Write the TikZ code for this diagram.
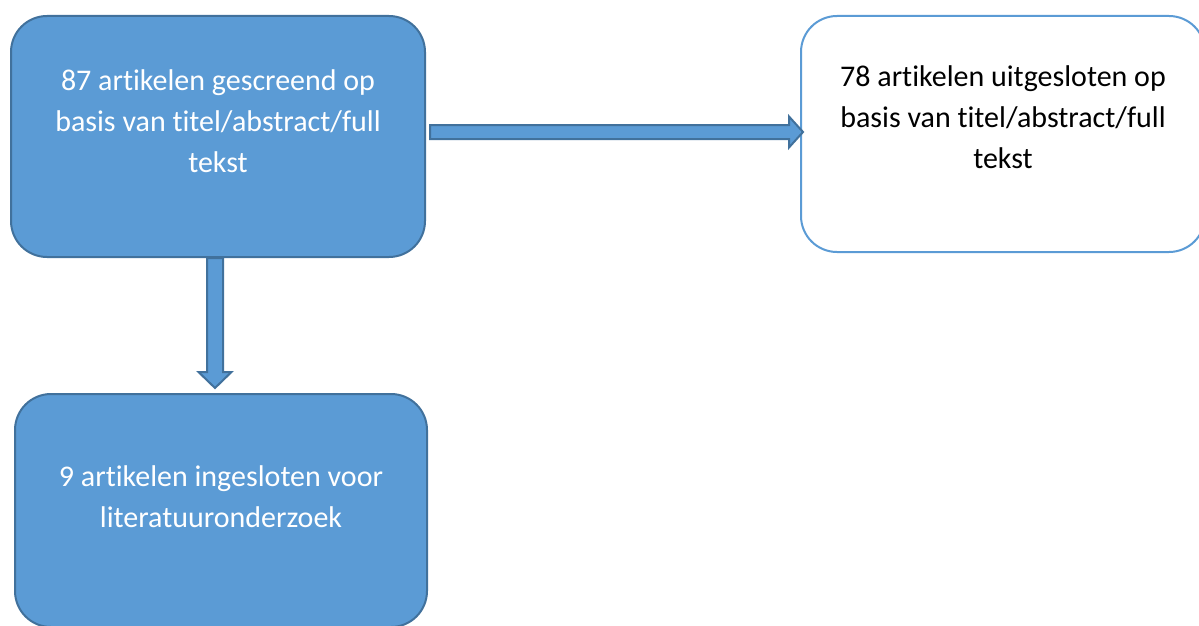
\documentclass[tikz,border=0pt]{standalone}
\usepackage{fontspec}
\setmainfont{Carlito}[RawFeature=-liga]
\usepackage{xcolor}
\usetikzlibrary{positioning,calc}
\definecolor{blauwvul}{RGB}{91,155,213}
\definecolor{blauwrand}{RGB}{65,113,156}

\begin{document}
\begin{tikzpicture}[
  x=1pt, y=-1pt,
  vak/.style  = {
    rectangle, draw=blauwrand, fill=blauwvul, line width=2pt,
    rounded corners=36pt, align=center, text=white,
    font=\fontsize{30}{41}\selectfont
  },
  vakw/.style = {
    rectangle, draw=blauwvul, fill=white, line width=2pt,
    rounded corners=36pt, align=center, text=black,
    font=\fontsize{30}{41}\selectfont
  },
  pijl/.style = {fill=blauwvul, draw=blauwrand, line width=2pt, line join=miter}
]
\useasboundingbox (0,0) rectangle (1199,626);

% Vakken
\node[vak, minimum width=414pt, minimum height=241pt, text depth=30pt]
  (scr) at (218,136.5) {87 artikelen gescreend op\\basis van titel/abstract/full\\tekst};
\node[vakw, minimum width=404pt, minimum height=236pt, text depth=34pt, right=374pt of scr, yshift=2.5pt]
  (excl) {78 artikelen uitgesloten op\\basis van titel/abstract/full\\tekst};
\node[vak, minimum width=412pt, minimum height=233pt, text depth=28pt, below=135pt of scr, xshift=3pt]
  (incl) {9 artikelen ingesloten voor\\literatuuronderzoek};

% Blokpijlen
\coordinate (r0)  at ($(scr.east)+(4,-4.5)$);
\coordinate (rt)  at ($(r0 -| excl.west)+(3,0)$);
\draw[pijl] ($(r0)+(0,-7)$) -- ($(rt)+(-14,-7)$) -- ($(rt)+(-14,-15.5)$) -- (rt)
  -- ($(rt)+(-14,15.5)$) -- ($(rt)+(-14,7)$) -- ($(r0)+(0,7)$) -- cycle;

\coordinate (d0)  at ($(scr.south)+(-3,0)$);
\coordinate (dt)  at ($(d0 |- incl.north)+(0,-5)$);
\draw[pijl] ($(d0)+(-8,0)$) -- ($(dt)+(-8,-16)$) -- ($(dt)+(-16.5,-16)$) -- (dt)
  -- ($(dt)+(16.5,-16)$) -- ($(dt)+(8,-16)$) -- ($(d0)+(8,0)$) -- cycle;

\end{tikzpicture}
\end{document}
